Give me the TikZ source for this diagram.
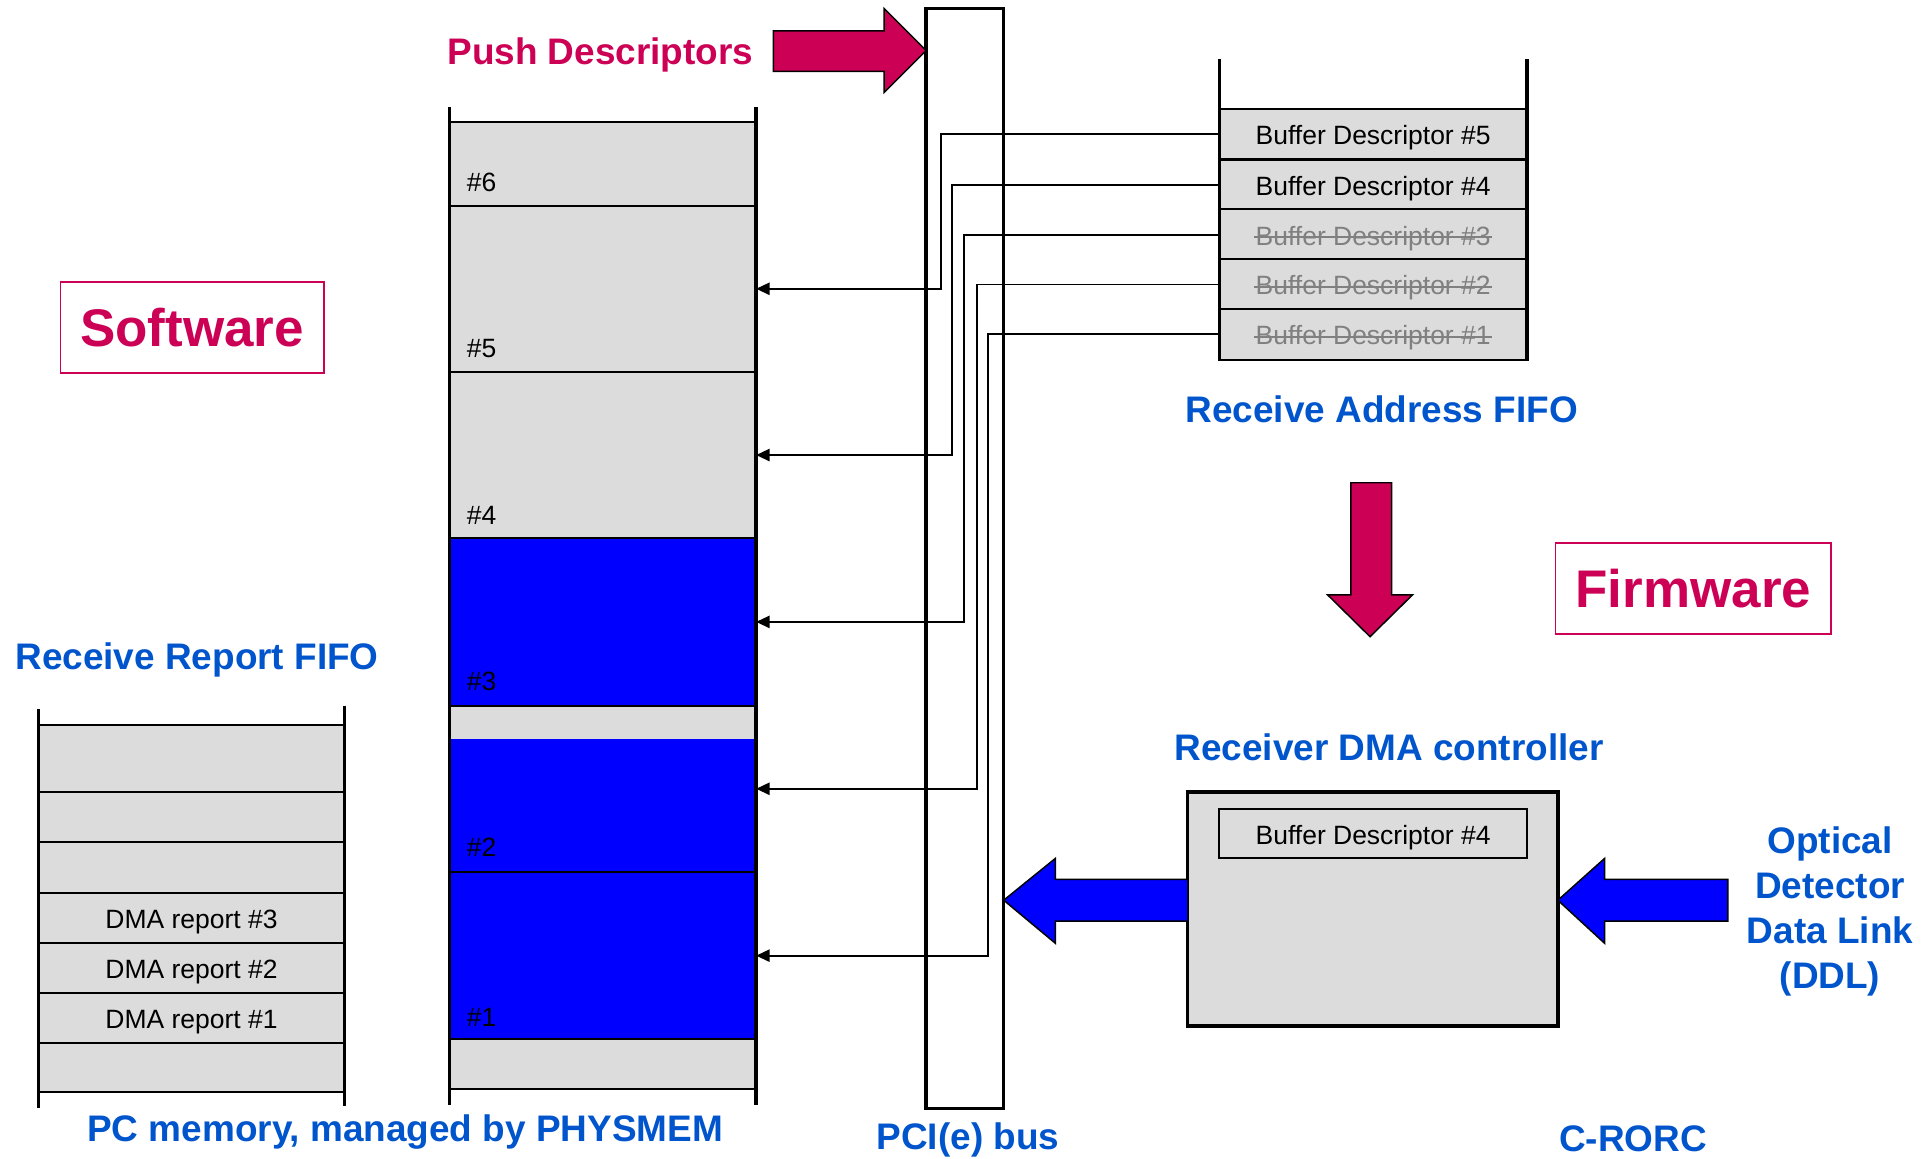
\documentclass[tikz,border=0pt]{standalone}
\usepackage{fontspec}
\setmainfont{Liberation Sans}
\usetikzlibrary{arrows.meta}
\definecolor{crim}{RGB}{204,0,85}
\definecolor{lblue}{RGB}{0,85,204}
\definecolor{cellgray}{RGB}{220,220,220}
\definecolor{pureblue}{RGB}{0,0,255}
\begin{document}
\begin{tikzpicture}[x=1pt,y=-1pt,
  lbl/.style={font=\fontsize{30}{36}\selectfont\bfseries, text=lblue, inner sep=0},
  tag/.style={font=\fontsize{43}{50}\selectfont\bfseries, text=crim, draw=crim, line width=1.3, fill=white, inner sep=0},
  cellbox/.style={draw, line width=1.7, fill=cellgray, inner sep=0, outer sep=0},
  memcell/.style={cellbox, minimum width=249},
  bdcell/.style={cellbox, minimum width=250, minimum height=41},
  rcell/.style={cellbox, minimum width=249},
  small/.style={font=\fontsize{21.5}{24}\selectfont, inner sep=0, text height=17pt, text depth=0pt},
  thickline/.style={line width=2.7},
  conn/.style={draw=black, line width=1.5, -{Triangle[length=11pt,width=10pt]}},
  bigarrow/.style={line width=1.2, draw=black}]
\useasboundingbox (0,0) rectangle (1568,941);

% ---------- memory column ----------
\node[memcell, fill=pureblue, minimum height=135] (mem2) at (489.5,640.5) {};
\fill[cellgray] (366,574) rectangle (613,600);
\node[memcell, fill=pureblue, minimum height=136] (mem1) at (489.5,776) {};
\node[memcell, minimum height=40] (memb) at (489.5,864) {};
\node[memcell, minimum height=68] (mem6) at (489.5,133) {};
\node[memcell, minimum height=135] (mem5) at (489.5,234.5) {};
\node[memcell, minimum height=135] (mem4) at (489.5,369.5) {};
\node[memcell, fill=pureblue, minimum height=136] (mem3) at (489.5,505) {};
\draw[thickline] (365,87) -- (365,897);
\draw[thickline] (614,87) -- (614,897);
\node[small, anchor=west] (l6) at (379,147) {\#6};
\node[small, anchor=west] (l5) at (379,282) {\#5};
\node[small, anchor=west] (l4) at (379,417) {\#4};
\node[small, anchor=west] (l3) at (379,552) {\#3};
\node[small, anchor=west] (l2) at (379,687) {\#2};
\node[small, anchor=west] (l1) at (379,825) {\#1};

% ---------- receive report FIFO ----------
\node[rcell, minimum height=54] (r7) at (155.5,616) {};
\node[rcell, minimum height=41] (r6) at (155.5,663.5) {};
\node[rcell, minimum height=41] (r5) at (155.5,704.5) {};
\node[rcell, minimum height=40.5, small] (r3) at (155.5,745.25) {DMA report \#3};
\node[rcell, minimum height=40.5, small] (r2) at (155.5,785.75) {DMA report \#2};
\node[rcell, minimum height=41, small] (r1) at (155.5,826.5) {DMA report \#1};
\node[rcell, minimum height=40] (r0) at (155.5,867) {};
\draw[thickline] (31,576) -- (31,900);
\draw[thickline] (280,573) -- (280,898);

% ---------- receive address FIFO ----------
\node[bdcell, small] (bd5) at (1115,109) {Buffer Descriptor \#5};
\node[bdcell, small] (bd4) at (1115,150) {Buffer Descriptor \#4};
\node[bdcell] (bd3) at (1115,190.5) {};
\node[bdcell] (bd2) at (1115,231) {};
\node[bdcell] (bd1) at (1115,271.5) {};
\foreach \k in {3,2,1}{
  \node[small, text=gray] (s\k) at (bd\k) {Buffer Descriptor \#\k};
  \draw[gray, line width=1.3] ([xshift=-1pt,yshift=-2pt]s\k.west) -- ([xshift=1pt,yshift=-2pt]s\k.east);
}
\draw[thickline] (990,48) -- (990,293);
\draw[thickline] (1240,48) -- (1240,293);

% ---------- PCI bus ----------
\node[draw, thickline, minimum width=63, minimum height=893, inner sep=0] (pci) at (783.5,453.5) {};

% ---------- connectors ----------
\draw[conn] (bd5.west) -| ([xshift=150pt]mem5.east) -- (mem5.east);
\draw[conn] (bd4.west) -| ([xshift=159pt]mem4.east) -- (mem4.east);
\draw[conn] (bd3.west) -| ([xshift=169pt]mem3.east) -- (mem3.east);
\draw[conn] (bd2.west) -| ([xshift=179pt]mem2.east) -- (mem2.east);
\draw[conn] (bd1.west) -| ([xshift=188pt]mem1.east) -- (mem1.east);

% ---------- big arrows ----------
\filldraw[fill=crim, bigarrow] (628,25) -- (718,25) -- (718,7) -- (752,41) -- (718,75) -- (718,58) -- (628,58) -- cycle;
\filldraw[fill=crim, bigarrow] (1097,392) -- (1130,392) -- (1130,483) -- (1147,483) -- (1112.5,517) -- (1078,483) -- (1097,483) -- cycle;

% ---------- DMA controller ----------
\node[draw, line width=2.7, fill=cellgray, minimum width=301, minimum height=190, inner sep=0] (dma) at (1114.5,738) {};
\node[draw, line width=1.5, fill=cellgray, minimum width=250, minimum height=40, small] (dmabd) at (1115,677) {Buffer Descriptor \#4};
\filldraw[fill=pureblue, bigarrow] (964,714) -- (857,714) -- (857,697) -- (815,731) -- (857,766) -- (857,748) -- (964,748);
\filldraw[fill=pureblue, bigarrow] (1403,714) -- (1303,714) -- (1303,697) -- (1265,731) -- (1303,766) -- (1303,748) -- (1403,748) -- cycle;

% ---------- labels ----------
\node[lbl, text=crim] (push) at (487.5,45) {Push Descriptors};
\node[tag, minimum width=214, minimum height=74] (sw) at (156,266) {Software};
\node[tag, minimum width=224, minimum height=74] (fw) at (1375,478) {Firmware};
\node[lbl] (rafifo) at (1122,332) {Receive Address FIFO};
\node[lbl] (rrfifo) at (160,536) {Receive Report FIFO};
\node[lbl] (dmalbl) at (1128,607) {Receiver DMA controller};
\node[lbl, align=center, font=\fontsize{30}{36.7}\selectfont\bfseries] (ddl) at (1486,740) {Optical\\Detector\\Data Link\\(DDL)};
\node[lbl] (pcmem) at (329,919) {PC memory, managed by PHYSMEM};
\node[lbl] (pcilbl) at (786,926) {PCI(e) bus};
\node[lbl] (crorc) at (1326,925) {C-RORC};
\end{tikzpicture}
\end{document}
